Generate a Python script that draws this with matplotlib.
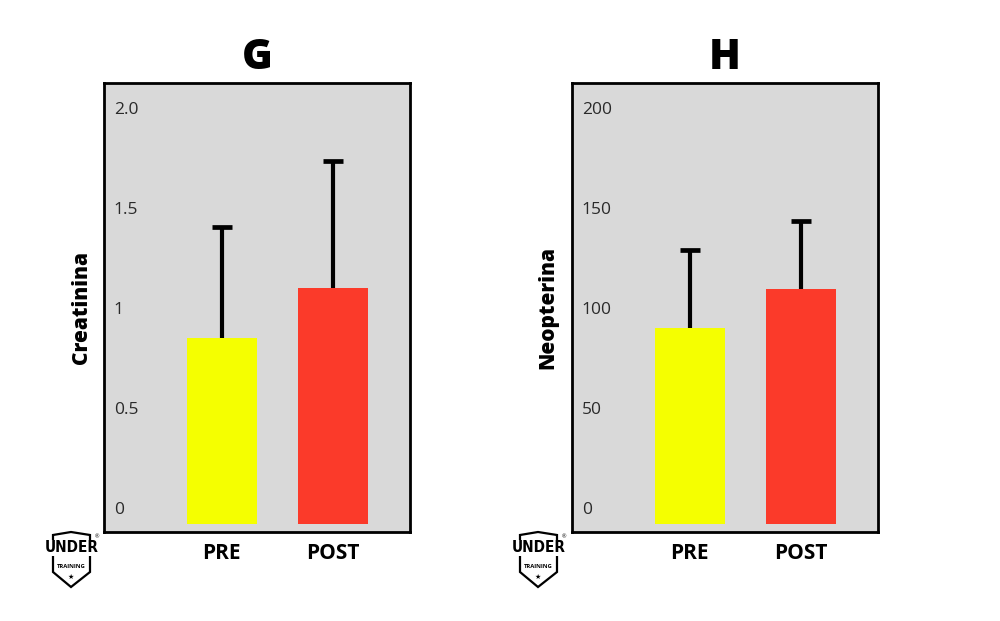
import matplotlib

matplotlib.use("Agg")
import matplotlib.pyplot as plt
from matplotlib.patches import Polygon
from matplotlib.transforms import ScaledTranslation

plt.rcParams["font.family"] = ["Open Sans", "DejaVu Sans"]

categories = ["PRE", "POST"]

creatinina_mean = [0.93, 1.18]
creatinina_err = [0.555, 0.635]
creatinina_ticks = [0, 0.5, 1.0, 1.5, 2.0]
creatinina_tick_labels = ["0", "0.5", "1", "1.5", "2.0"]

neopterina_mean = [98, 117.5]
neopterina_err = [39, 34]
neopterina_ticks = [0, 50, 100, 150, 200]
neopterina_tick_labels = ["0", "50", "100", "150", "200"]

BAR_COLORS = ["#f5ff00", "#fb3a2a"]
PANEL_BG = "#d9d9d9"
W, H = 1000, 621


def draw_panel(fig, rect, title, ylabel, label_x, means, errs, ticks, tick_labels, ymax):
    ax = fig.add_axes(rect)
    ax.set_facecolor(PANEL_BG)
    x = list(range(len(categories)))
    tops = [m + e for m, e in zip(means, errs)]
    ax.bar(x, means, width=0.63, color=BAR_COLORS, zorder=2)
    # upper error only: stem from the bar top plus a cap marker
    ax.errorbar(x, means, yerr=[[0] * len(errs), errs], fmt="none",
                ecolor="black", elinewidth=3, capsize=0, zorder=1)
    ax.plot(x, tops, ls="none", marker="_", color="black", ms=14.4, mew=3.4, zorder=3)
    ax.set_xlim(-1.06, 1.695)
    ax.set_ylim(-0.02 * ymax, 1.1025 * ymax)

    ax.set_xticks(x)
    ax.set_xticklabels(categories, fontsize=15, fontweight="bold")
    ax.tick_params(axis="x", length=0, pad=8)

    ax.set_yticks(ticks)
    ax.set_yticklabels(tick_labels, fontsize=12.5, color="#2a2a2a")
    ax.tick_params(axis="y", length=0, pad=-7)
    shift = ScaledTranslation(0, 16 / 100, fig.dpi_scale_trans)
    for tick in ax.yaxis.get_major_ticks():
        tick.label1.set_horizontalalignment("left")
        tick.label1.set_transform(tick.label1.get_transform() + shift)

    for spine in ax.spines.values():
        spine.set_linewidth(2)
        spine.set_color("black")

    ax.set_title(title, fontsize=30, fontweight="heavy", pad=10)
    ax.set_ylabel(ylabel, fontsize=15, fontweight="heavy")
    ax.yaxis.set_label_coords(label_x, 0.5)
    return ax


def draw_logo(fig, cx):
    def pt(px, py):
        return ((cx + px) / W, 1 - py / H)

    shield = [pt(-18, 535), pt(0, 532), pt(19, 535), pt(19, 572), pt(0, 587), pt(-18, 572)]
    fig.patches.append(
        Polygon(shield, closed=True, fill=False, edgecolor="black", linewidth=1.6,
                transform=fig.transFigure, figure=fig)
    )
    fig.text((cx + 0.5) / W, 1 - 548 / H, "UNDER", ha="center", va="center", fontsize=11,
             fontweight="bold", family=["DejaVu Sans"], fontstretch="condensed",
             bbox=dict(facecolor="white", edgecolor="none", pad=0.5))
    fig.text((cx + 26) / W, 1 - 537 / H, "®", ha="center", va="center", fontsize=4)
    fig.text(cx / W, 1 - 566 / H, "TRAINING", ha="center", va="center", fontsize=4.2,
             fontweight="bold")
    fig.text(cx / W, 1 - 577 / H, "★", ha="center", va="center", fontsize=5,
             family=["DejaVu Sans"])


fig = plt.figure(figsize=(10, 6.21), dpi=100)

draw_panel(fig, [0.104, 0.1433, 0.306, 0.723], "G", "Creatinina", -0.039,
           creatinina_mean, creatinina_err, creatinina_ticks, creatinina_tick_labels, 2.0)
draw_panel(fig, [0.572, 0.1433, 0.306, 0.723], "H", "Neopterina", -0.043,
           neopterina_mean, neopterina_err, neopterina_ticks, neopterina_tick_labels, 200)

draw_logo(fig, 71)
draw_logo(fig, 538)

fig.savefig("out.png", dpi=100)
